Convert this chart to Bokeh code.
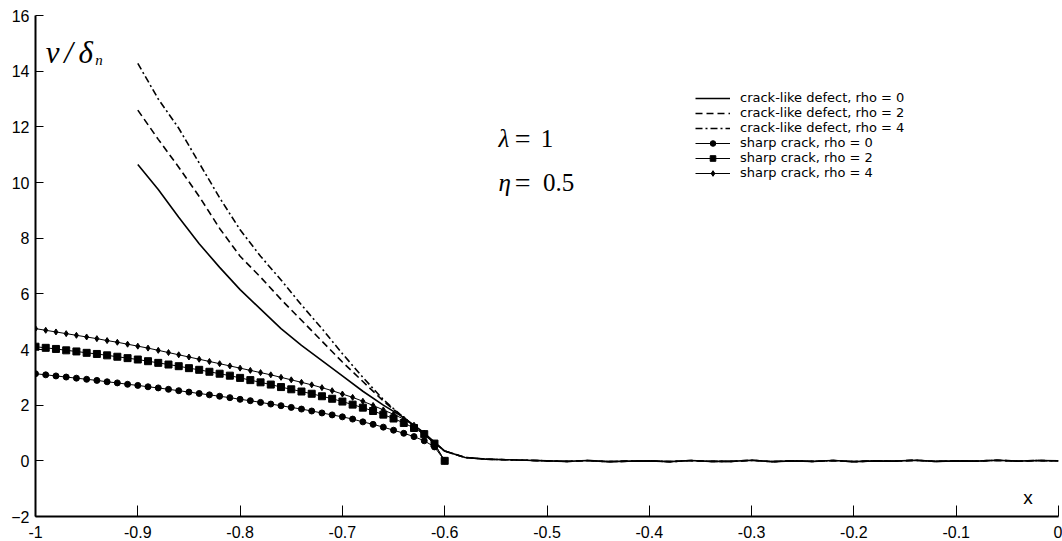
from bokeh.plotting import figure
from bokeh.models import Legend, LegendItem, Label, FixedTicker, NumeralTickFormatter, Range1d
from bokeh.embed import file_html
from bokeh.resources import INLINE

# ---- data -----------------------------------------------------------------
x_defect_head = [-0.90, -0.88, -0.86, -0.84, -0.82, -0.80, -0.78, -0.76, -0.74,
                 -0.72, -0.70, -0.68, -0.66, -0.64, -0.62, -0.60, -0.58, -0.56]
x_defect_tail = [-0.54, -0.52, -0.50, -0.48, -0.46, -0.44, -0.42, -0.40, -0.38,
                 -0.36, -0.34, -0.32, -0.30, -0.28, -0.26, -0.24, -0.22, -0.20,
                 -0.18, -0.16, -0.14, -0.12, -0.10, -0.08, -0.06, -0.04, -0.02, 0.00]
defect_tail = [0.04, 0.02, 0.00, -0.02, 0.01, -0.03, -0.01, 0.00, -0.03, 0.01,
               -0.02, -0.02, 0.02, -0.03, 0.00, -0.02, 0.01, -0.03, 0.00, -0.01,
               0.02, -0.02, 0.00, -0.01, 0.02, -0.01, 0.01, 0.00]
defect_rho0_head = [10.65, 9.75, 8.75, 7.80, 6.95, 6.15, 5.45, 4.75, 4.15,
                    3.60, 3.05, 2.50, 2.00, 1.55, 1.00, 0.35, 0.12, 0.06]
defect_rho2_head = [12.60, 11.55, 10.55, 9.50, 8.35, 7.35, 6.60, 5.80, 5.05,
                    4.30, 3.55, 2.85, 2.15, 1.55, 0.95, 0.35, 0.12, 0.06]
defect_rho4_head = [14.28, 13.00, 11.95, 10.70, 9.45, 8.30, 7.35, 6.50, 5.60,
                    4.75, 3.85, 3.00, 2.20, 1.55, 0.95, 0.35, 0.12, 0.06]

x_sharp = [-1.00, -0.99, -0.98, -0.97, -0.96, -0.95, -0.94, -0.93, -0.92, -0.91,
           -0.90, -0.89, -0.88, -0.87, -0.86, -0.85, -0.84, -0.83, -0.82, -0.81,
           -0.80, -0.79, -0.78, -0.77, -0.76, -0.75, -0.74, -0.73, -0.72, -0.71,
           -0.70, -0.69, -0.68, -0.67, -0.66, -0.65, -0.64, -0.63, -0.62, -0.61,
           -0.60]
sharp_rho0 = [3.13, 3.09, 3.05, 3.01, 2.97, 2.93, 2.89, 2.84, 2.80, 2.75,
              2.71, 2.66, 2.62, 2.57, 2.52, 2.47, 2.42, 2.37, 2.32, 2.27,
              2.21, 2.16, 2.10, 2.04, 1.98, 1.92, 1.86, 1.79, 1.72, 1.65,
              1.58, 1.50, 1.40, 1.31, 1.21, 1.10, 0.99, 0.87, 0.72, 0.50,
              0.00]
sharp_rho2 = [4.10, 4.06, 4.02, 3.97, 3.93, 3.88, 3.84, 3.79, 3.74, 3.69,
              3.64, 3.58, 3.52, 3.46, 3.40, 3.33, 3.27, 3.20, 3.13, 3.06,
              2.98, 2.90, 2.82, 2.74, 2.65, 2.57, 2.49, 2.41, 2.32, 2.23,
              2.13, 2.02, 1.91, 1.79, 1.66, 1.52, 1.36, 1.18, 0.96, 0.62,
              0.00]
sharp_rho4 = [4.75, 4.69, 4.63, 4.57, 4.51, 4.45, 4.39, 4.32, 4.26, 4.19,
              4.12, 4.05, 3.97, 3.89, 3.81, 3.73, 3.65, 3.57, 3.49, 3.41,
              3.33, 3.25, 3.17, 3.09, 3.00, 2.91, 2.82, 2.73, 2.63, 2.52,
              2.40, 2.28, 2.14, 1.99, 1.83, 1.67, 1.50, 1.28, 1.00, 0.60,
              0.00]

legend_labels = ["crack-like defect, rho = 0", "crack-like defect, rho = 2",
                 "crack-like defect, rho = 4", "sharp crack, rho = 0",
                 "sharp crack, rho = 2", "sharp crack, rho = 4"]
x_ticks = [-1.0, -0.9, -0.8, -0.7, -0.6, -0.5, -0.4, -0.3, -0.2, -0.1, 0.0]
y_ticks = [-2, 0, 2, 4, 6, 8, 10, 12, 14, 16]

# ---- figure ---------------------------------------------------------------
p = figure(width=1062, height=541, output_backend="svg", toolbar_location=None,
           x_range=Range1d(-1, 0), y_range=Range1d(-2, 16),
           min_border_left=35, min_border_right=4, min_border_top=15,
           min_border_bottom=25)
p.outline_line_color = None
p.grid.visible = False
p.background_fill_color = "white"
p.border_fill_color = "white"

x_defect = x_defect_head + x_defect_tail
r_d0 = p.line(x_defect, defect_rho0_head + defect_tail, line_color="black", line_width=1.6)
r_d2 = p.line(x_defect, defect_rho2_head + defect_tail, line_color="black", line_width=1.6,
              line_dash="7 4")
r_d4 = p.line(x_defect, defect_rho4_head + defect_tail, line_color="black", line_width=1.6,
              line_dash="7 3 2 3")

r_s0l = p.line(x_sharp, sharp_rho0, line_color="black", line_width=1)
r_s0m = p.scatter(x_sharp, sharp_rho0, marker="circle", size=6, color="black")
r_s2l = p.line(x_sharp, sharp_rho2, line_color="black", line_width=1)
r_s2m = p.scatter(x_sharp, sharp_rho2, marker="square", size=7, color="black")
r_s4l = p.line(x_sharp, sharp_rho4, line_color="black", line_width=1)
r_s4m = p.scatter(x_sharp, sharp_rho4, marker="diamond", size=6, color="black")

# ---- axes -----------------------------------------------------------------
for ax in (p.xaxis[0], p.yaxis[0]):
    ax.axis_line_width = 2
    ax.axis_line_color = "black"
    ax.major_tick_line_color = "black"
    ax.major_tick_out = 0
    ax.minor_tick_line_color = None
    ax.major_label_text_font = "Liberation Sans"
    ax.major_label_text_font_size = "16px"
    ax.major_label_text_color = "black"

p.xaxis.ticker = FixedTicker(ticks=x_ticks)
p.xaxis.formatter = NumeralTickFormatter(format="0.[0]")
p.xaxis.major_tick_in = 11
p.xaxis.major_label_standoff = 9
p.yaxis.ticker = FixedTicker(ticks=y_ticks)
p.yaxis.major_tick_in = 8
p.yaxis.major_label_standoff = 6

# ---- annotations ----------------------------------------------------------
serif = "Liberation Serif"
def lab(x, y, t, size, style="normal", font=serif):
    p.add_layout(Label(x=x, y=y, text=t, text_font=font, text_font_size=size,
                       text_font_style=style, text_color="black",
                       text_baseline="alphabetic", text_align="left"))

lab(-0.990, 14.67, "ν", "31px", "italic")
lab(-0.972, 14.67, "/", "31px", "italic")
lab(-0.958, 14.67, "δ", "31px", "italic")
lab(-0.9415, 14.40, "n", "15px", "italic")

lab(-0.5474, 11.57, "λ", "25px", "italic")
lab(-0.5315, 11.57, "=", "28px")
lab(-0.5060, 11.57, "1", "25px")
lab(-0.5474, 9.99, "η", "25px", "italic")
lab(-0.5315, 9.99, "=", "28px")
lab(-0.5040, 9.99, "0.5", "25px")

lab(-0.0345, -1.33, "x", "19px", "normal", "Liberation Sans")

# ---- legend ---------------------------------------------------------------
items = [
    LegendItem(label=legend_labels[0], renderers=[r_d0]),
    LegendItem(label=legend_labels[1], renderers=[r_d2]),
    LegendItem(label=legend_labels[2], renderers=[r_d4]),
    LegendItem(label=legend_labels[3], renderers=[r_s0l, r_s0m]),
    LegendItem(label=legend_labels[4], renderers=[r_s2l, r_s2m]),
    LegendItem(label=legend_labels[5], renderers=[r_s4l, r_s4m]),
]
legend = Legend(items=items, location=(658, 334), orientation="vertical",
                background_fill_alpha=0, border_line_alpha=0,
                glyph_width=35, glyph_height=14, label_height=14, spacing=0,
                padding=2, margin=0, label_standoff=10,
                label_text_font="DejaVu Sans", label_text_font_size="13px",
                label_text_color="black")
p.add_layout(legend)

open("out.html", "w").write(file_html(p, INLINE))
